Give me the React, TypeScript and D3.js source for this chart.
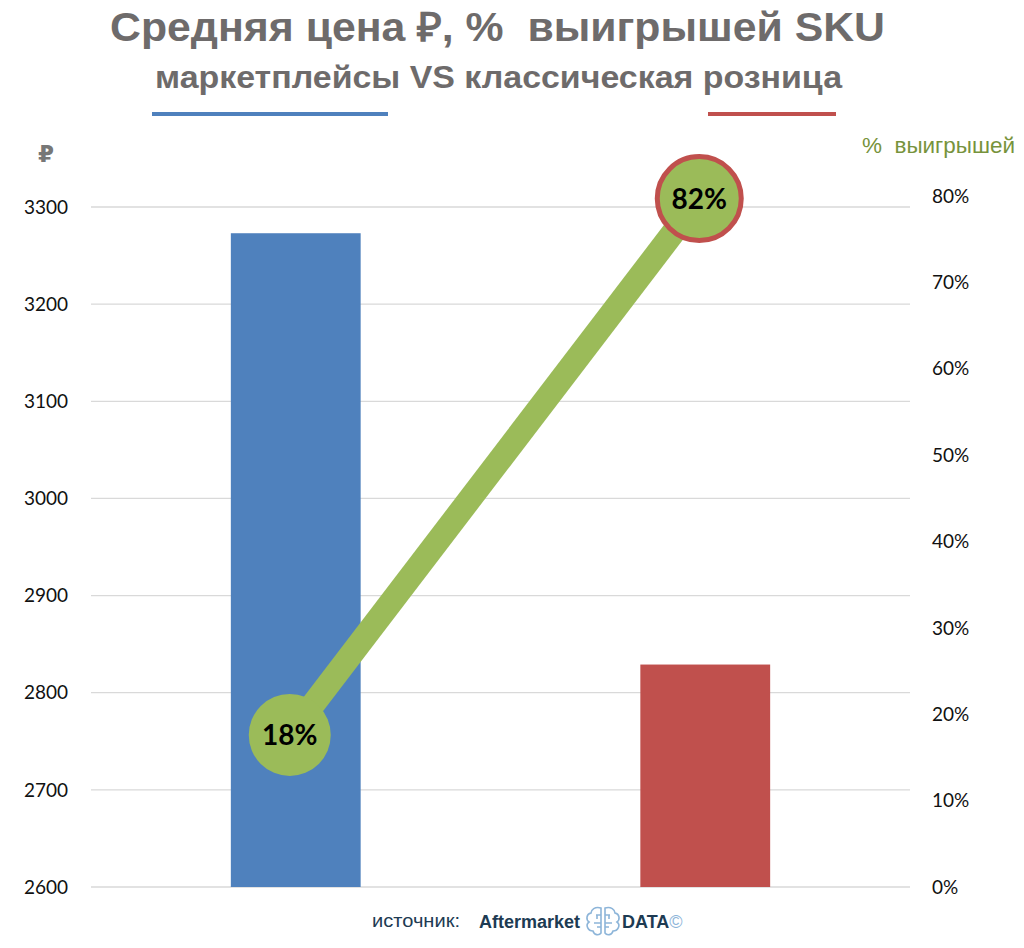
import * as d3 from "d3";
import { useEffect, useRef } from "react";

// Data
const categories = ["маркетплейсы", "классическая розница"];
const avgPrice = [3273, 2829];
const winShare = [17.6, 79.7];
const winLabels = ["18%", "82%"];
const priceTicks = [2600, 2700, 2800, 2900, 3000, 3100, 3200, 3300];
const shareTicks = [0, 10, 20, 30, 40, 50, 60, 70, 80];
const barColors = ["#4f81bd", "#c0504d"];

const App = () => {
    const svgRef = useRef<SVGSVGElement | null>(null);

    useEffect(() => {
        if (!svgRef.current) return;
        document.body.style.margin = "0";

        const width = 1024;
        const height = 948;
        const plot = { left: 91, right: 910, top: 207, bottom: 887 };

        const svg = d3.select(svgRef.current)
            .attr("width", width)
            .attr("height", height)
            .style("background", "#fff")
            .style("display", "block");

        svg.selectAll("*").remove();

        // Scales
        const x = d3.scaleBand<string>()
            .domain(categories)
            .range([plot.left, plot.right]);

        const yLeft = d3.scaleLinear()
            .domain([2600, 3300])
            .range([plot.bottom, plot.top]);

        const yRight = d3.scaleLinear()
            .domain([0, 80])
            .range([887, 196]);

        const barW = x.bandwidth() * 0.317;

        // Title
        svg.append("text")
            .attr("x", 110)
            .attr("y", 41)
            .attr("textLength", 775)
            .attr("lengthAdjust", "spacingAndGlyphs")
            .attr("font-family", "Liberation Sans, Arial, sans-serif")
            .attr("font-weight", "bold")
            .attr("font-size", 40)
            .attr("fill", "#6e6b6b")
            .style("white-space", "pre")
            .text("Средняя цена ₽, %  выигрышей SKU");

        svg.append("text")
            .attr("x", 155)
            .attr("y", 88)
            .attr("textLength", 687)
            .attr("lengthAdjust", "spacingAndGlyphs")
            .attr("font-family", "Liberation Sans, Arial, sans-serif")
            .attr("font-weight", "bold")
            .attr("font-size", 31)
            .attr("fill", "#6e6b6b")
            .text("маркетплейсы VS классическая розница");

        // Colour keys under the subtitle
        svg.append("line")
            .attr("x1", 152).attr("x2", 388)
            .attr("y1", 114).attr("y2", 114)
            .attr("stroke", barColors[0])
            .attr("stroke-width", 4);
        svg.append("line")
            .attr("x1", 708).attr("x2", 836)
            .attr("y1", 114).attr("y2", 114)
            .attr("stroke", barColors[1])
            .attr("stroke-width", 4);

        // Gridlines
        svg.append("g")
            .selectAll("line")
            .data(priceTicks)
            .join("line")
            .attr("x1", plot.left)
            .attr("x2", plot.right)
            .attr("y1", d => yLeft(d))
            .attr("y2", d => yLeft(d))
            .attr("stroke", "#d9d9d9")
            .attr("stroke-width", 1.3);

        // Left axis labels
        svg.append("g")
            .selectAll("text")
            .data(priceTicks)
            .join("text")
            .attr("x", 68)
            .attr("y", d => yLeft(d))
            .attr("dy", "0.35em")
            .attr("text-anchor", "end")
            .attr("font-family", "Lato, sans-serif")
            .attr("font-size", 19)
            .attr("fill", "#111")
            .text(d => d);

        svg.append("text")
            .attr("x", 46)
            .attr("y", 162)
            .attr("text-anchor", "middle")
            .attr("font-family", "DejaVu Sans, sans-serif")
            .attr("font-weight", "bold")
            .attr("font-size", 23)
            .attr("fill", "#777")
            .text("₽");

        // Right axis labels
        svg.append("g")
            .selectAll("text")
            .data(shareTicks)
            .join("text")
            .attr("x", 932)
            .attr("y", d => yRight(d))
            .attr("dy", "0.35em")
            .attr("font-family", "Lato, sans-serif")
            .attr("font-size", 19)
            .attr("fill", "#111")
            .text(d => `${d}%`);

        svg.append("text")
            .attr("x", 862)
            .attr("y", 153)
            .attr("textLength", 153)
            .attr("lengthAdjust", "spacingAndGlyphs")
            .attr("font-family", "Liberation Sans, Arial, sans-serif")
            .attr("font-size", 22)
            .attr("fill", "#77933c")
            .style("white-space", "pre")
            .text("%  выигрышей");

        // Bars
        svg.append("g")
            .selectAll("rect")
            .data(categories)
            .join("rect")
            .attr("x", d => x(d)! + x.bandwidth() / 2 - barW / 2)
            .attr("y", (_, i) => yLeft(avgPrice[i]))
            .attr("width", barW)
            .attr("height", (_, i) => plot.bottom - yLeft(avgPrice[i]))
            .attr("fill", (_, i) => barColors[i]);

        // Win share line
        const pts = categories.map((c, i) => ({
            x: x(c)! + x.bandwidth() / 2 - 6,
            y: yRight(winShare[i])
        }));

        const line = d3.line<{ x: number; y: number }>()
            .x(d => d.x)
            .y(d => d.y);

        svg.append("path")
            .datum(pts)
            .attr("fill", "none")
            .attr("stroke", "#9bbb59")
            .attr("stroke-width", 24)
            .attr("d", line);

        svg.append("g")
            .selectAll("circle")
            .data(pts)
            .join("circle")
            .attr("cx", d => d.x)
            .attr("cy", d => d.y)
            .attr("r", (_, i) => (i === 0 ? 41 : 42))
            .attr("fill", "#9bbb59")
            .attr("stroke", (_, i) => (i === 0 ? "none" : barColors[1]))
            .attr("stroke-width", 5);

        svg.append("g")
            .selectAll("text")
            .data(pts)
            .join("text")
            .attr("x", d => d.x)
            .attr("y", d => d.y)
            .attr("dy", "0.36em")
            .attr("text-anchor", "middle")
            .attr("font-family", "Lato, sans-serif")
            .attr("font-weight", "bold")
            .attr("font-size", 28)
            .attr("fill", "#000")
            .text((_, i) => winLabels[i]);

        // Source
        const src = svg.append("g");
        src.append("text")
            .attr("x", 372)
            .attr("y", 927)
            .attr("textLength", 88)
            .attr("lengthAdjust", "spacingAndGlyphs")
            .attr("font-family", "Liberation Sans, Arial, sans-serif")
            .attr("font-size", 18)
            .attr("fill", "#1d3b53")
            .text("источник:");
        src.append("text")
            .attr("x", 479)
            .attr("y", 928)
            .attr("font-family", "Liberation Sans, Arial, sans-serif")
            .attr("font-weight", "bold")
            .attr("font-size", 18)
            .attr("fill", "#1d3b53")
            .text("Aftermarket");

        // brain icon
        const brain = src.append("g")
            .attr("transform", "translate(603,921)")
            .attr("fill", "none")
            .attr("stroke", "#8db5d9")
            .attr("stroke-width", 1.6);
        brain.append("path")
            .attr("d", "M-2,-13 C-8,-15 -12,-11 -12,-8 C-17,-7 -17,-1 -14,1 C-18,4 -15,10 -10,10 C-9,14 -4,15 -2,12 Z");
        brain.append("path")
            .attr("d", "M2,-13 C8,-15 12,-11 12,-8 C17,-7 17,-1 14,1 C18,4 15,10 10,10 C9,14 4,15 2,12 Z");
        brain.append("path")
            .attr("d", "M-2,-6 L-7,-6 M-2,2 L-9,2 M-6,-6 L-6,-2 M2,-6 L7,-6 M2,2 L9,2 M6,-6 L6,-2 M-6,6 L-2,6 M6,6 L2,6");

        const data = src.append("text")
            .attr("x", 622)
            .attr("y", 928)
            .attr("font-family", "Liberation Sans, Arial, sans-serif")
            .attr("font-weight", "bold")
            .attr("font-size", 18)
            .attr("fill", "#1d3b53");
        data.append("tspan").text("DATA");
        data.append("tspan")
            .attr("font-weight", "normal")
            .attr("fill", "#8db5d9")
            .text("©");
    }, []);

    return <svg ref={svgRef}></svg>;
};

export default App;
